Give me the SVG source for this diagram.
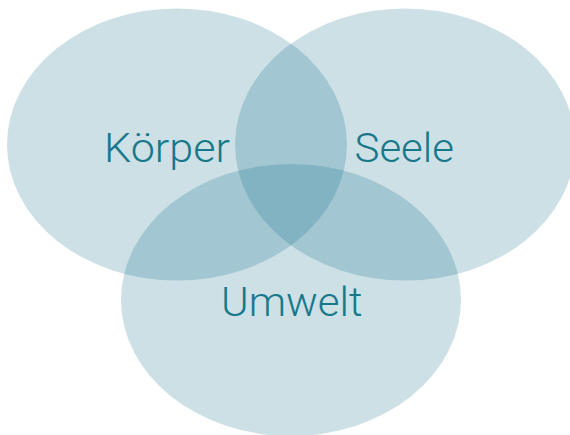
<svg xmlns="http://www.w3.org/2000/svg" width="570" height="435" viewBox="0 0 570 435">
<style>
.c{fill:rgb(0,100,130);fill-opacity:0.2}
.t{font-family:Roboto,"Liberation Sans",sans-serif;font-weight:300;font-size:41px;fill:#17788a}
</style>
<rect width="570" height="435" fill="#ffffff"/>
<g id="koerper"><ellipse class="c" cx="177" cy="144.5" rx="170" ry="136"/></g>
<g id="seele"><ellipse class="c" cx="405" cy="144.5" rx="170" ry="136"/></g>
<g id="umwelt"><ellipse class="c" cx="291" cy="300" rx="170" ry="136"/></g>
<g id="labels">
<text class="t" x="104" y="162" textLength="126" lengthAdjust="spacingAndGlyphs">Körper</text>
<text class="t" x="354.5" y="162" textLength="99.5" lengthAdjust="spacingAndGlyphs">Seele</text>
<text class="t" x="221" y="316" textLength="141.5" lengthAdjust="spacingAndGlyphs">Umwelt</text>
</g>
<g id="connectors"/>
</svg>
